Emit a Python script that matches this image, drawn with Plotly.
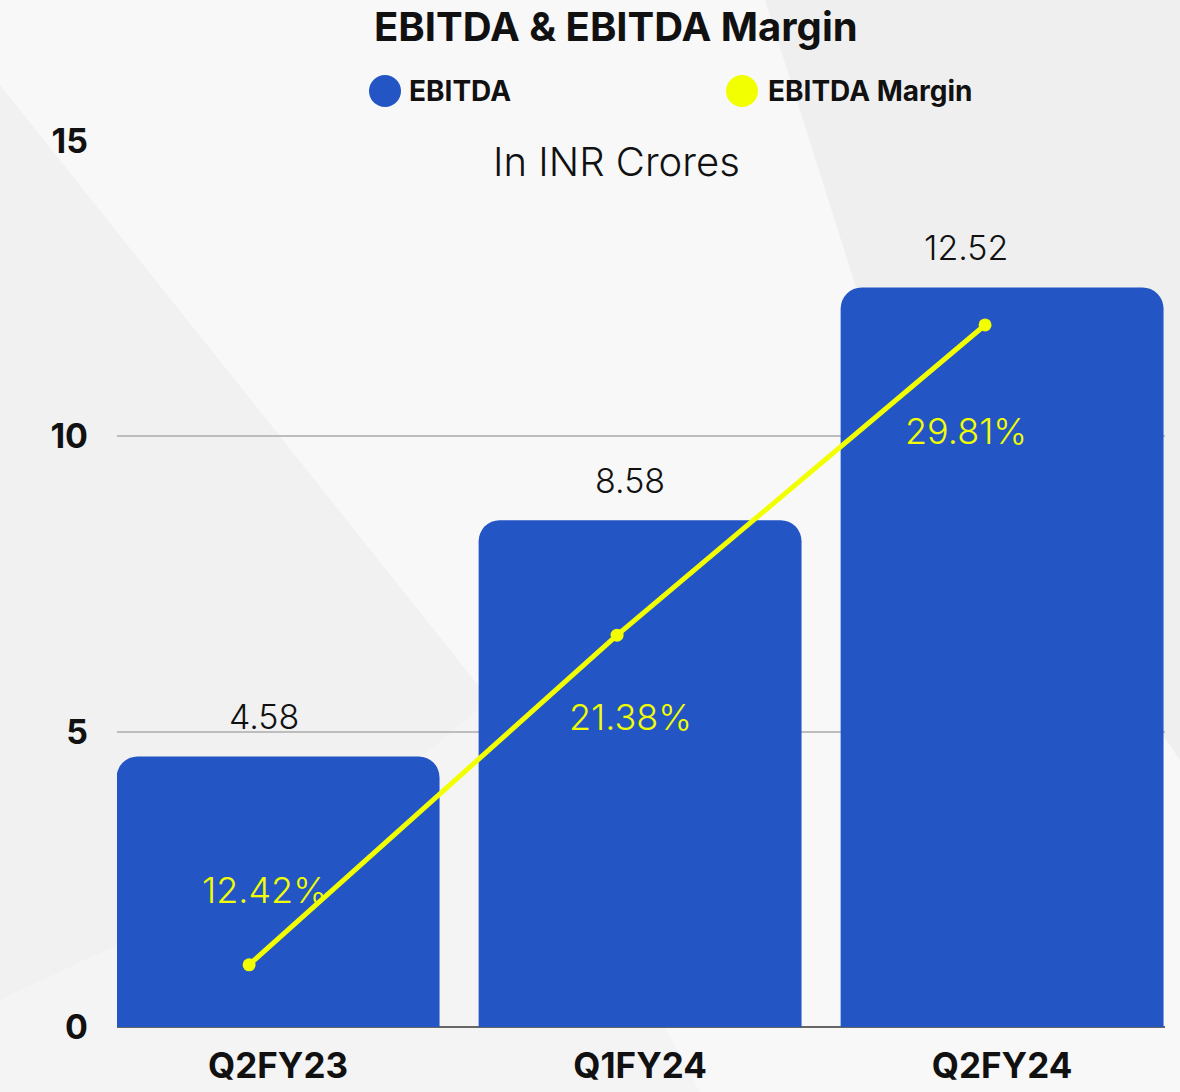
import plotly.graph_objects as go

# ---- data ----
quarters = ["Q2FY23", "Q1FY24", "Q2FY24"]
ebitda = [4.58, 8.58, 12.52]
ebitda_margin = [12.42, 21.38, 29.81]
ebitda_labels = ["4.58", "8.58", "12.52"]
margin_labels = ["12.42%", "21.38%", "29.81%"]
y_ticks = [0, 5, 10, 15]

# ---- style ----
FONT = "Inter, 'Open Sans', sans-serif"
BAR_COLOR = "#2355C5"
LINE_COLOR = "#F2FF00"
W, H = 1180, 1092
L, R, T, B = 117, 15, 141, 65
PW, PH = W - L - R, H - T - B


def px(x):
    return (x - L) / PW


def py(y):
    return (H - B - y) / PH


fig = go.Figure()

fig.add_trace(go.Bar(
    x=quarters, y=ebitda, name="EBITDA",
    marker=dict(color=BAR_COLOR, line=dict(width=0)),
    xaxis="x", yaxis="y", showlegend=False, hoverinfo="x+y",
))

fig.add_trace(go.Scatter(
    x=quarters, y=ebitda_margin, name="EBITDA Margin",
    mode="lines+markers",
    line=dict(color=LINE_COLOR, width=5),
    marker=dict(color=LINE_COLOR, size=13),
    xaxis="x2", yaxis="y2", showlegend=False,
))

label_xshift = [-14, -10, -36]

# value labels above bars
for q, v, t, dx in zip(quarters, ebitda, ebitda_labels, label_xshift):
    fig.add_annotation(x=q, y=v, xref="x", yref="y", text=t, showarrow=False,
                       yshift=40, xshift=dx, yanchor="middle",
                       font=dict(family=FONT, size=34, color="#111111", weight=300))

# margin labels inside bars
m_yshift = [75, -82, -106]
for q, v, t, dx, dy in zip(quarters, ebitda_margin, margin_labels, label_xshift, m_yshift):
    fig.add_annotation(x=q, y=v, xref="x", yref="y2", text=t, showarrow=False,
                       xshift=dx, yshift=dy, yanchor="middle",
                       font=dict(family=FONT, size=36, color=LINE_COLOR, weight=300))

# title and subtitle
fig.add_annotation(x=px(616), y=py(27), xref="paper", yref="paper",
                   text="<b>EBITDA & EBITDA Margin</b>", showarrow=False,
                   yanchor="middle", xanchor="center",
                   font=dict(family=FONT, size=40, color="#111111"))
fig.add_annotation(x=px(616), y=py(161), xref="paper", yref="paper",
                   text="In INR Crores", showarrow=False,
                   yanchor="middle", xanchor="center",
                   font=dict(family=FONT, size=40, color="#111111", weight=300))

# manual legend
legend_items = [("EBITDA", BAR_COLOR, 385, 407), ("EBITDA Margin", LINE_COLOR, 742, 766)]
for name, col, cx, tx in legend_items:
    r = 16
    fig.add_shape(type="circle", xref="paper", yref="paper",
                  x0=px(cx - r), x1=px(cx + r), y0=py(91 + r), y1=py(91 - r),
                  fillcolor=col, line=dict(width=0), layer="above")
    fig.add_annotation(x=px(tx), y=py(91), xref="paper", yref="paper",
                       text=f"<b>{name}</b>", showarrow=False,
                       xanchor="left", yanchor="middle",
                       font=dict(family=FONT, size=28, color="#111111"))

# background shading
bg_shapes = [
    ("#f1f1f1", [(0, 85), (490, 700), (300, 860), (0, 1000)]),
    ("#efefef", [(765, 0), (1180, 0), (1180, 760), (860, 300)]),
    ("#f4f4f4", [(0, 1000), (300, 860), (490, 700), (700, 1092), (0, 1092)]),
]
for col, pts in bg_shapes:
    path = "M " + " L ".join(f"{px(x):.4f},{py(y):.4f}" for x, y in pts) + " Z"
    fig.add_shape(type="path", path=path, xref="paper", yref="paper",
                  fillcolor=col, line=dict(width=0), layer="below")

fig.update_layout(
    width=W, height=H,
    autosize=False,
    margin=dict(l=L, r=R, t=T, b=B),
    paper_bgcolor="#f8f8f8",
    plot_bgcolor="rgba(0,0,0,0)",
    bargap=0.108,
    barcornerradius=21,
    showlegend=False,
    font=dict(family=FONT, color="#111111"),
    xaxis=dict(type="category", range=[-0.445, 2.45], showgrid=False,
               showline=False, zeroline=False, ticks="", automargin=False,
               tickfont=dict(family=FONT, size=35, color="#111111", weight="bold"),
               ticklabelstandoff=15),
    xaxis2=dict(type="category", overlaying="x", range=[-0.359, 2.489],
                visible=False),
    yaxis=dict(range=[0, 15], tickvals=y_ticks, showgrid=True,
               gridcolor="#bdbdbd", gridwidth=1.5, automargin=False,
               zeroline=True, zerolinecolor="#666666", zerolinewidth=2,
               showline=False, ticks="",
               tickfont=dict(family=FONT, size=34, color="#111111", weight="bold"),
               ticklabelstandoff=28),
    yaxis2=dict(range=[10.73, 34.81], overlaying="y", side="right",
                visible=False, showgrid=False),
)

post = (
    "document.documentElement.style.margin='0';"
    "document.body.style.margin='0';document.body.style.padding='0';"
    "document.documentElement.style.overflow='hidden';"
    "document.body.style.overflow='hidden';"
)

fig.write_html("out.html", config={"displayModeBar": False},
               post_script=post)
